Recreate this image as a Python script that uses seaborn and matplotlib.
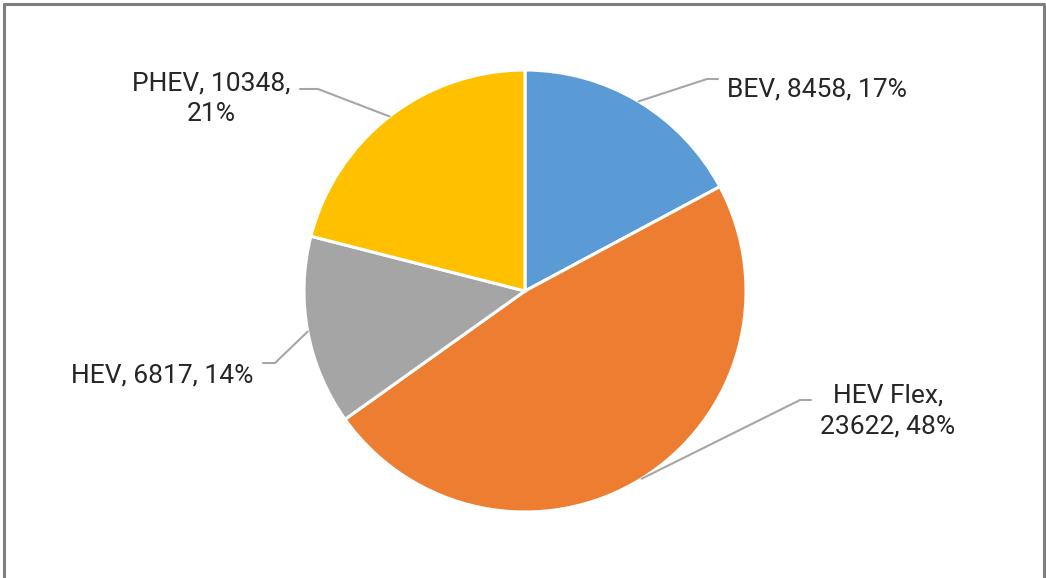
import numpy as np
import seaborn as sns
import matplotlib.pyplot as plt
from matplotlib.lines import Line2D

# data
categories = ["BEV", "HEV Flex", "HEV", "PHEV"]
values = [8458, 23622, 6817, 10348]
label_texts = ["BEV, 8458, 17%", "HEV Flex,\n23622, 48%", "HEV, 6817, 14%", "PHEV, 10348,\n21%"]
colors = ["#5B9BD5", "#ED7D31", "#A5A5A5", "#FFC000"]

sns.set_theme(style="white")
plt.rcParams['font.family'] = ['Roboto', 'DejaVu Sans']

W, H = 1046, 578
fig = plt.figure(figsize=(W / 100, H / 100), dpi=100)
fig.patch.set_facecolor("white")

# pie centre and radius in pixels
cx, cy, R = 525, 291, 221
ax = fig.add_axes([(cx - R) / W, (H - cy - R) / H, 2 * R / W, 2 * R / H])
wedges, _ = ax.pie(values, colors=colors, startangle=90, counterclock=False,
                   radius=1, wedgeprops=dict(edgecolor="white", linewidth=2.2))
ax.set_xlim(-1, 1)
ax.set_ylim(-1, 1)
ax.set_aspect("equal")
ax.axis("off")

# label placement (pixels): elbow of leader line, end of leader line, text centre, ha
elbows = [(707, 79), (800, 400), (275, 363), (318, 89)]
ends = [(718, 79), (811, 400), (263, 363), (300, 89)]
text_pos = [(727, 89), (888, 411), (162, 375), (211, 99)]
text_ha = ["left", "center", "center", "center"]


def px2d(p):
    return ((p[0] - cx) / R, (cy - p[1]) / R)


for w, lab, el, en, tp, ha in zip(wedges, label_texts, elbows, ends, text_pos, text_ha):
    mid = np.deg2rad((w.theta1 + w.theta2) / 2)
    start = (np.cos(mid), np.sin(mid))
    e1 = px2d(el)
    e2 = px2d(en)
    ax.add_line(Line2D([start[0], e1[0], e2[0]], [start[1], e1[1], e2[1]],
                       color="#A6A6A6", lw=1.5, clip_on=False))
    t = px2d(tp)
    ax.text(t[0], t[1], lab, ha=ha, va="center", fontsize=19,
            color="#262626", linespacing=1.35, multialignment="center", clip_on=False)

# frame (top, left, right)
frame = dict(color="#7F7F7F", lw=2.2, transform=fig.transFigure)
fig.add_artist(Line2D([4 / W, 4 / W, (W - 2) / W, (W - 2) / W],
                      [0, 1 - 4 / H, 1 - 4 / H, 0], **frame))

fig.savefig("out.png", dpi=100, facecolor="white")
